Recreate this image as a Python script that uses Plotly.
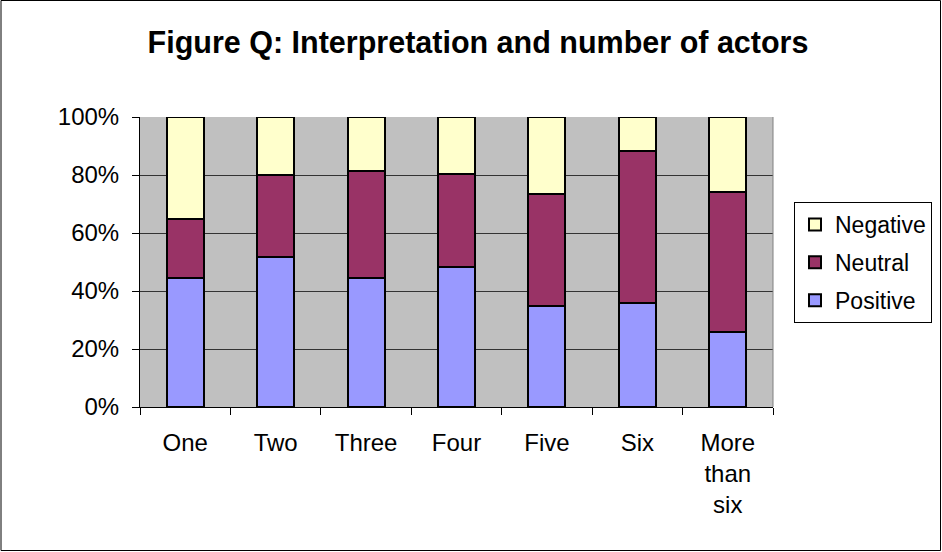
import plotly.graph_objects as go

# Share of interpretations (%) by number of actors
categories = ["One", "Two", "Three", "Four", "Five", "Six", "More<br>than<br>six"]
positive = [44.6, 51.6, 44.4, 48.4, 34.9, 35.7, 25.8]
neutral = [20.2, 28.4, 37.1, 31.9, 38.4, 52.6, 48.4]
negative = [35.2, 20.0, 18.5, 19.7, 26.7, 11.7, 25.8]

y_ticks = [0, 20, 40, 60, 80, 100]
y_tick_labels = ["0%", "20%", "40%", "60%", "80%", "100%"]

W, H = 942, 552
L, R, T, B = 140, 169, 117, 145
FONT = "Liberation Sans, Arial, sans-serif"
fs = 24

fig = go.Figure()
series = [
    ("Positive", positive, "#9999FF", 3),
    ("Neutral", neutral, "#993366", 2),
    ("Negative", negative, "#FFFFCC", 1),
]
for name, vals, color, rank in series:
    fig.add_trace(go.Bar(
        x=categories, y=vals, name=name, legendgroup=name, legendrank=rank,
        marker=dict(color=color, line=dict(color="black", width=2)),
        width=0.41,
    ))

pw, ph = W - L - R, H - T - B


def px_x(v):
    return (v - L) / pw


def px_y(v):
    return (H - B - v) / ph


fig.update_layout(
    width=W, height=H,
    margin=dict(l=L, r=R, t=T, b=B, autoexpand=False),
    barmode="stack",
    paper_bgcolor="white",
    plot_bgcolor="#C0C0C0",
    font=dict(family=FONT, size=fs, color="black"),
    title=dict(
        text="<b>Figure Q: Interpretation and number of actors</b>",
        font=dict(family=FONT, size=30.5, color="black"),
        x=478 / W, xanchor="center", xref="container",
        y=1 - 42 / H, yanchor="middle", yref="container",
    ),
    legend=dict(
        x=px_x(794), y=px_y(202), xanchor="left", yanchor="top",
        xref="paper", yref="paper",
        traceorder="grouped", tracegroupgap=5,
        bordercolor="black", borderwidth=1, bgcolor="white",
        font=dict(family=FONT, size=23),
        itemwidth=30,
    ),
    xaxis=dict(
        type="category", showline=True, linecolor="black", linewidth=1,
        ticks="outside", tickson="boundaries", ticklen=7, tickcolor="black",
        showgrid=False, tickfont=dict(size=fs), ticklabelstandoff=14,
    ),
    yaxis=dict(
        range=[0, 100], tickvals=y_ticks, ticktext=y_tick_labels,
        showline=True, linecolor="black", linewidth=1,
        ticks="outside", ticklen=7, tickcolor="black",
        showgrid=True, gridcolor="#333333", gridwidth=1,
        zeroline=False, tickfont=dict(size=fs), ticklabelstandoff=8,
    ),
    shapes=[
        # right edge of the plot area
        dict(type="line", xref="paper", yref="paper", x0=1, x1=1, y0=0, y1=1,
             line=dict(color="#808080", width=1)),
        # outer frame of the chart
        dict(type="rect", xref="paper", yref="paper",
             x0=px_x(1), x1=px_x(940.5), y0=px_y(550.5), y1=px_y(0.5),
             line=dict(color="black", width=1)),
    ],
)

fig.write_html("out.html")
